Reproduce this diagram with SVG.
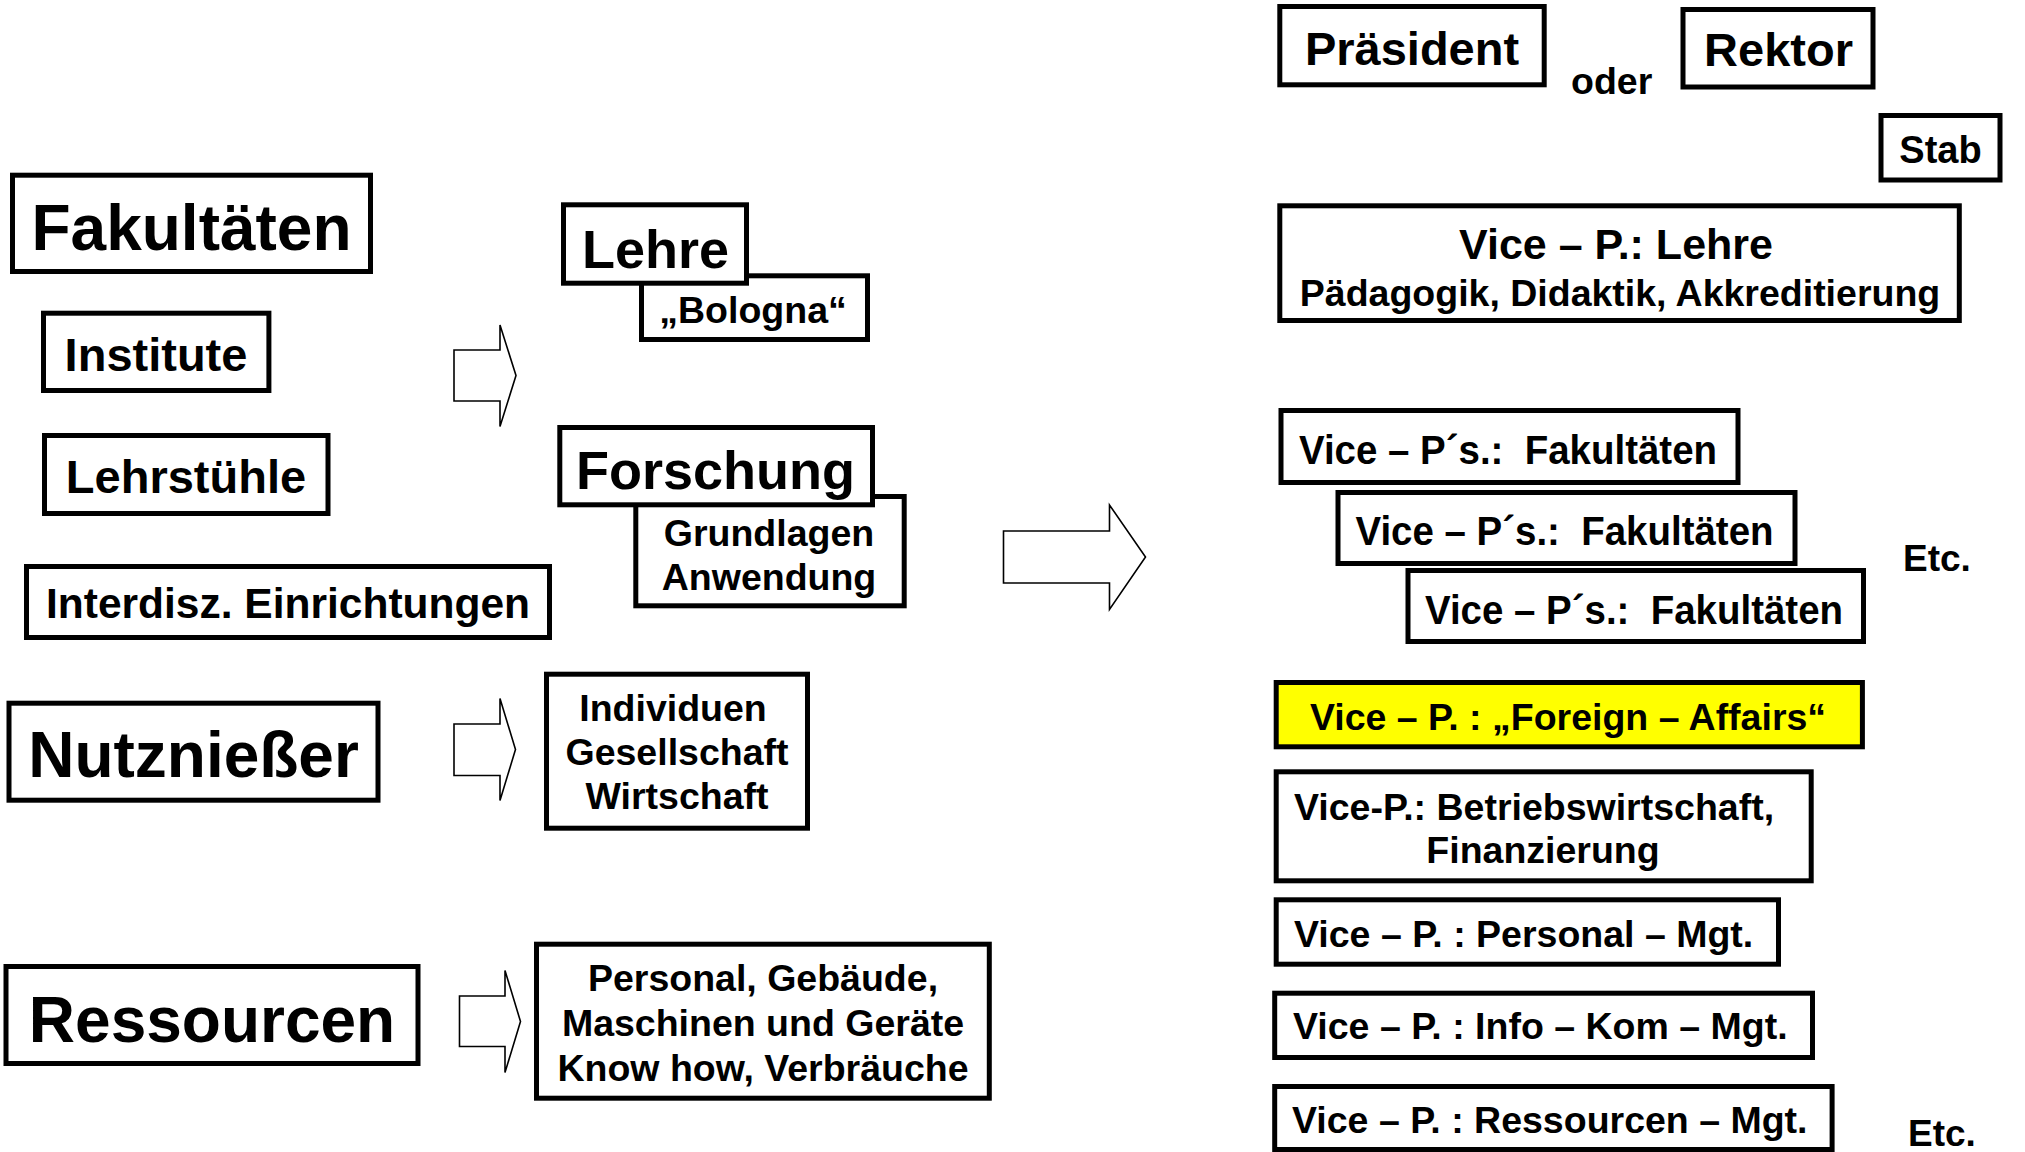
<svg xmlns="http://www.w3.org/2000/svg" width="2025" height="1152" viewBox="0 0 2025 1152">
  <style>
    .box { fill: #ffffff; stroke: #000000; stroke-width: 5; }
    .hl { fill: #ffff00; stroke: #000000; stroke-width: 5; }
    .arrow { fill: #ffffff; stroke: #000000; stroke-width: 1.6; stroke-linejoin: miter; }
    text { font-family: "Liberation Sans", Arial, sans-serif; font-weight: bold; fill: #000000; white-space: pre; }
    .c { text-anchor: middle; }
    .xl { font-size: 64px; }
    .lg { font-size: 54px; }
    .ml { font-size: 47px; }
    .md { font-size: 37.5px; }
  </style>
  <rect width="2025" height="1152" fill="#ffffff"/>

  <!-- left column: organisational units -->
  <g id="fakultaeten">
    <rect class="box" x="12.5" y="175.2" width="358" height="96.3"/>
    <text class="xl c" x="191.5" y="250">Fakultäten</text>
  </g>
  <g id="institute">
    <rect class="box" x="43.5" y="313.2" width="225.4" height="77.3"/>
    <text class="ml c" x="156" y="371">Institute</text>
  </g>
  <g id="lehrstuehle">
    <rect class="box" x="44.5" y="435.5" width="283.5" height="78"/>
    <text class="ml c" x="186" y="493">Lehrstühle</text>
  </g>
  <g id="interdisz">
    <rect class="box" x="26.5" y="566.5" width="523" height="71"/>
    <text class="c" x="288" y="618" font-size="42.5">Interdisz. Einrichtungen</text>
  </g>
  <g id="nutzniesser">
    <rect class="box" x="9" y="703.2" width="369" height="97"/>
    <text class="xl c" x="193.5" y="777">Nutznießer</text>
  </g>
  <g id="ressourcen">
    <rect class="box" x="6" y="966.5" width="412" height="97"/>
    <text class="xl c" x="212" y="1042">Ressourcen</text>
  </g>

  <!-- middle column: tasks -->
  <g id="bologna">
    <rect class="box" x="641.5" y="275.8" width="226" height="63.7"/>
    <text class="md c" x="753" y="323">„Bologna“</text>
  </g>
  <g id="lehre">
    <rect class="box" x="563.5" y="204.8" width="183" height="78.4"/>
    <text class="lg c" x="655.5" y="268">Lehre</text>
  </g>
  <g id="grundlagen">
    <rect class="box" x="635.8" y="496.5" width="268.4" height="109.3"/>
    <text class="md c" x="769" y="546">Grundlagen</text>
    <text class="md c" x="769" y="590">Anwendung</text>
  </g>
  <g id="forschung">
    <rect class="box" x="559.8" y="427.5" width="312.7" height="77.3"/>
    <text class="lg c" x="715.5" y="489">Forschung</text>
  </g>
  <g id="nutzer">
    <rect class="box" x="546.5" y="674.2" width="261" height="154"/>
    <text class="md c" x="673" y="721">Individuen</text>
    <text class="md c" x="677" y="765">Gesellschaft</text>
    <text class="md c" x="677" y="809">Wirtschaft</text>
  </g>
  <g id="mittel">
    <rect class="box" x="536.5" y="944.2" width="452.8" height="154"/>
    <text class="md c" x="763" y="991">Personal, Gebäude,</text>
    <text class="md c" x="763" y="1036">Maschinen und Geräte</text>
    <text class="md c" x="763" y="1081">Know how, Verbräuche</text>
  </g>

  <!-- block arrows -->
  <g id="connectors">
    <polygon class="arrow" points="454,350 500,350 500,325 516,375.5 500,426.5 500,401 454,401"/>
    <polygon class="arrow" points="454,724 500,724 500,698.5 515.5,749.5 500,800.5 500,775.5 454,775.5"/>
    <polygon class="arrow" points="459.5,996 505,996 505,970.5 520.5,1021.5 505,1072.5 505,1046.5 459.5,1046.5"/>
    <polygon class="arrow" points="1003.5,531 1109.5,531 1109.5,505 1145.5,557 1109.5,609.5 1109.5,583 1003.5,583"/>
  </g>

  <!-- right column: university management -->
  <g id="praesident">
    <rect class="box" x="1279.8" y="6.5" width="264.4" height="78.3"/>
    <text class="ml c" x="1412" y="65">Präsident</text>
  </g>
  <text id="oder" class="md" x="1571" y="94">oder</text>
  <g id="rektor">
    <rect class="box" x="1683" y="9.5" width="190" height="77.5"/>
    <text class="ml c" x="1778.5" y="66">Rektor</text>
  </g>
  <g id="stab">
    <rect class="box" x="1881" y="115.5" width="119" height="64.5"/>
    <text class="c" x="1940.5" y="163" font-size="38">Stab</text>
  </g>
  <g id="vp-lehre">
    <rect class="box" x="1279.8" y="205.8" width="679.5" height="114.7"/>
    <text class="c" x="1616" y="259" font-size="43">Vice – P.: Lehre</text>
    <text class="md c" x="1620" y="306">Pädagogik, Didaktik, Akkreditierung</text>
  </g>
  <g id="vp-fak-1">
    <rect class="box" x="1281" y="410.5" width="457" height="72"/>
    <text x="1299" y="464" font-size="41" textLength="418" lengthAdjust="spacingAndGlyphs">Vice – P´s.:  Fakultäten</text>
  </g>
  <g id="vp-fak-2">
    <rect class="box" x="1338" y="492.5" width="457" height="71"/>
    <text x="1355.5" y="545" font-size="41" textLength="418" lengthAdjust="spacingAndGlyphs">Vice – P´s.:  Fakultäten</text>
  </g>
  <g id="vp-fak-3">
    <rect class="box" x="1408" y="570.5" width="455.5" height="71"/>
    <text x="1425" y="624" font-size="41" textLength="418" lengthAdjust="spacingAndGlyphs">Vice – P´s.:  Fakultäten</text>
  </g>
  <text id="etc-1" x="1903" y="571" font-size="37">Etc.</text>
  <g id="vp-foreign">
    <rect class="hl" x="1276.2" y="682.5" width="586.2" height="64.3"/>
    <text class="md c" x="1568" y="730">Vice – P. : „Foreign – Affairs“</text>
  </g>
  <g id="vp-bwl">
    <rect class="box" x="1276.2" y="771.8" width="535" height="109"/>
    <text class="md" x="1294" y="820">Vice-P.: Betriebswirtschaft,</text>
    <text class="md c" x="1543" y="863">Finanzierung</text>
  </g>
  <g id="vp-personal">
    <rect class="box" x="1276.2" y="899.8" width="502.3" height="64.4"/>
    <text class="md" x="1294" y="947">Vice – P. : Personal – Mgt.</text>
  </g>
  <g id="vp-infokom">
    <rect class="box" x="1274.7" y="993.2" width="537.8" height="64.3"/>
    <text class="md" x="1293" y="1039">Vice – P. : Info – Kom – Mgt.</text>
  </g>
  <g id="vp-ressourcen">
    <rect class="box" x="1274.7" y="1086.5" width="557.4" height="63"/>
    <text class="md" x="1292" y="1133">Vice – P. : Ressourcen – Mgt.</text>
  </g>
  <text id="etc-2" x="1908" y="1146" font-size="37">Etc.</text>
</svg>
